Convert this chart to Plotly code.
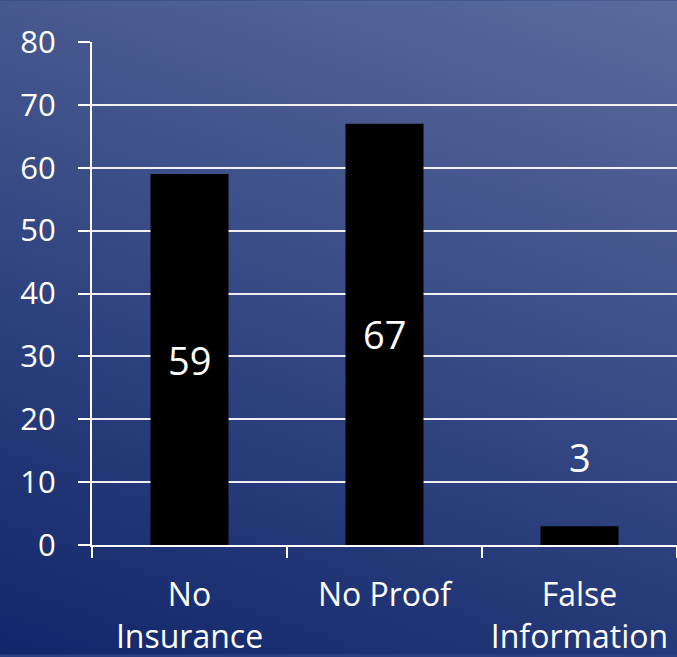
import base64
import plotly.graph_objects as go

categories = ["No<br>Insurance", "No Proof", "False<br>Information"]
values = [59, 67, 3]
y_ticks = [0, 10, 20, 30, 40, 50, 60, 70, 80]

W, H = 677, 657
ML, MR, MT, MB = 92, 0, 42, 110
PW, PH = W - ML - MR, H - MT - MB

svg = (
    '<svg xmlns="http://www.w3.org/2000/svg" width="677" height="657" preserveAspectRatio="none" viewBox="0 0 677 657">'
    '<defs><linearGradient id="g" x1="0" y1="1" x2="0.44" y2="-0.2">'
    '<stop offset="0" stop-color="#11266b"/><stop offset="1" stop-color="#5a6b9c"/>'
    '</linearGradient></defs><rect width="677" height="657" fill="url(#g)"/></svg>'
)
src = "data:image/svg+xml;base64," + base64.b64encode(svg.encode()).decode()

fig = go.Figure()
fig.add_trace(go.Bar(
    x=categories, y=values, width=0.4,
    marker=dict(color="#000000", line=dict(width=0)),
    hoverinfo="skip",
))

label_y = [v / 2 if v > 10 else v + 11 for v in values]
for c, v, ly in zip(categories, values, label_y):
    fig.add_annotation(x=c, y=ly, text=str(v), showarrow=False, xref="x", yref="y",
                       font=dict(family="Open Sans", size=38, color="white"))

fig.add_layout_image(dict(
    source=src, xref="paper", yref="paper",
    x=-ML / PW, y=1 + MT / PH, sizex=W / PW, sizey=H / PH,
    sizing="stretch", xanchor="left", yanchor="top", layer="below",
))

fig.update_layout(
    width=W, height=H,
    margin=dict(l=ML, r=MR, t=MT, b=MB),
    paper_bgcolor="#2a3f80", plot_bgcolor="rgba(0,0,0,0)",
    showlegend=False,
    font=dict(family="Open Sans", color="white", size=30),
    bargap=0.6,
)
fig.update_xaxes(
    range=[-0.5, 2.5], showline=True, linecolor="white", linewidth=2,
    ticks="outside", tickson="boundaries", ticklen=11, tickcolor="white", tickwidth=2,
    tickfont=dict(size=32), showgrid=False, fixedrange=True, ticklabelstandoff=21,
)
fig.update_yaxes(
    range=[0, 80], tickvals=y_ticks, showline=True, linecolor="white", linewidth=2,
    ticks="outside", ticklen=12, tickcolor="white", tickwidth=2,
    showgrid=True, gridcolor="rgba(255,255,255,0.92)", gridwidth=2, zeroline=False,
    tickfont=dict(size=31), fixedrange=True, ticklabelstandoff=16,
)

fig.write_html("out.html", config={"displayModeBar": False},
               post_script="document.body.style.margin='0';document.body.style.overflow='hidden';")
